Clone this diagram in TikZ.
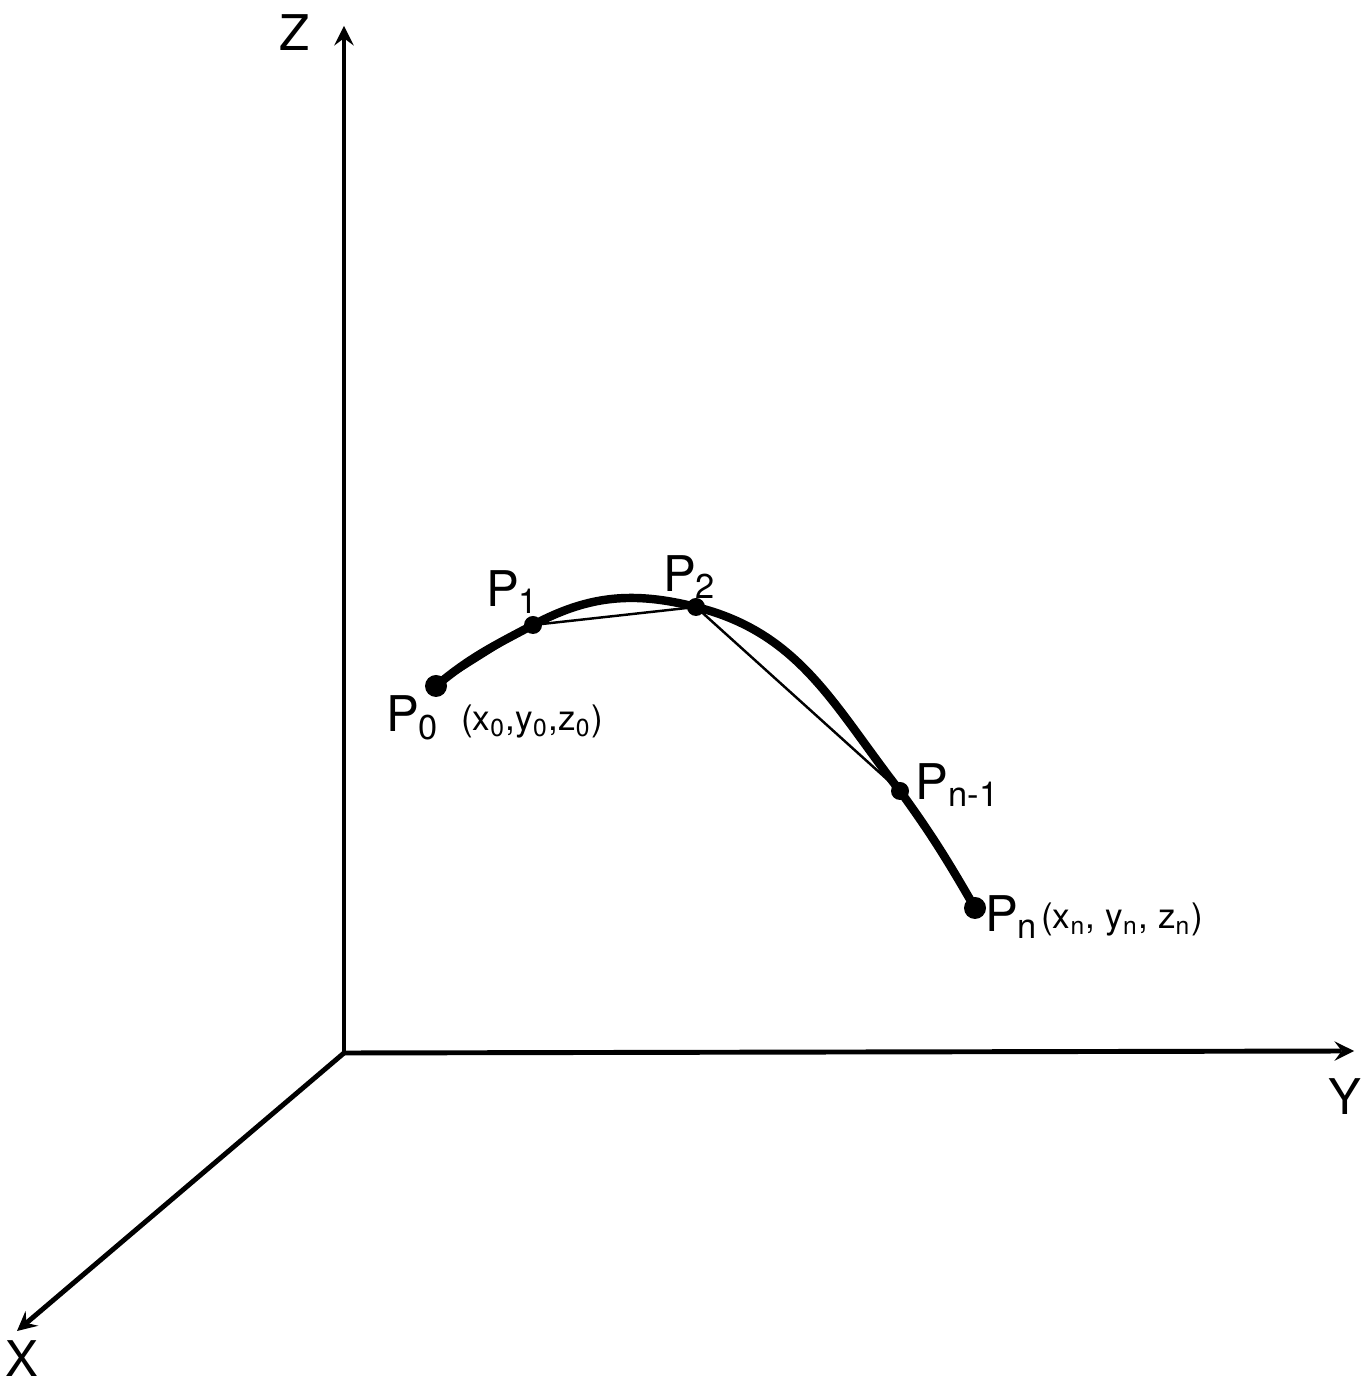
\documentclass[tikz,border=0pt]{standalone}
\usepackage{fontspec}
\setmainfont{TeX Gyre Heros}
\usetikzlibrary{calc}

\begin{document}
\begin{tikzpicture}[>=stealth, thick,
    axis/.style={->, line width=1.4pt},
    chord/.style={line width=0.7pt},
    lbl/.style={inner sep=0pt, font=\fontsize{14}{16}\selectfont},
    tuple/.style={inner sep=0pt, font=\fontsize{10}{12}\selectfont}]

    % Frame
    \useasboundingbox (0,0) rectangle (13.69,13.86);

    % Parameters
    \def\rDot{0.09}
    \def\rEnd{0.11}

    % Axes
    \coordinate (O)    at (3.44, 3.33);
    \coordinate (zEnd) at (3.44, 13.60);
    \coordinate (yEnd) at (13.54, 3.35);
    \coordinate (xEnd) at (0.17, 0.55);
    \draw[axis] (O) -- (zEnd);
    \draw[axis] (O) -- (yEnd);
    \draw[axis] (O) -- (xEnd);

    % Axis labels
    \node[lbl] (zLab) at (2.95, 13.53) {Z};
    \node[lbl] (yLab) at (13.45, 2.89) {Y};
    \node[lbl] (xLab) at (0.22, 0.27) {X};

    % Points on the curve
    \coordinate (P0) at (4.36, 7.00);
    \coordinate (P1) at (5.33, 7.61);
    \coordinate (P2) at (6.96, 7.79);
    \coordinate (Pm) at (9.00, 5.95);
    \coordinate (Pn) at (9.75, 4.78);

    % Curve
    \draw[line width=2.4pt, line cap=round]
        (P0) to[out=40, in=208] (P1)
             to[out=28, in=166] (P2)
             to[out=-14, in=128] (Pm)
             to[out=-54, in=120] (Pn);

    % Chords
    \draw[chord] (P0) -- (P1);
    \draw[chord] (P1) -- (P2);
    \draw[chord] (P2) -- (Pm);
    \draw[chord] (Pm) -- (Pn);

    % Dots
    \fill (P0) circle (\rEnd);
    \fill (P1) circle (\rDot);
    \fill (P2) circle (\rDot);
    \fill (Pm) circle (\rDot);
    \fill (Pn) circle (\rEnd);

    % Point labels
    \node[lbl] (P0Lab) at (4.13, 6.68) {P\textsubscript{0}};
    \node[tuple] (P0Tup) at (5.32, 6.64)
        {(x\textsubscript{0},y\textsubscript{0},z\textsubscript{0})};
    \node[lbl] (P1Lab) at (5.13, 7.94) {P\textsubscript{1}};
    \node[lbl] (P2Lab) at (6.90, 8.09) {P\textsubscript{2}};
    \node[lbl] (PmLab) at (9.58, 6.01) {P\textsubscript{n-1}};
    \node[lbl] (PnLab) at (10.12, 4.69) {P\textsubscript{n}};
    \node[tuple] (PnTup) at (11.22, 4.66)
        {(x\textsubscript{n}, y\textsubscript{n}, z\textsubscript{n})};

\end{tikzpicture}
\end{document}
